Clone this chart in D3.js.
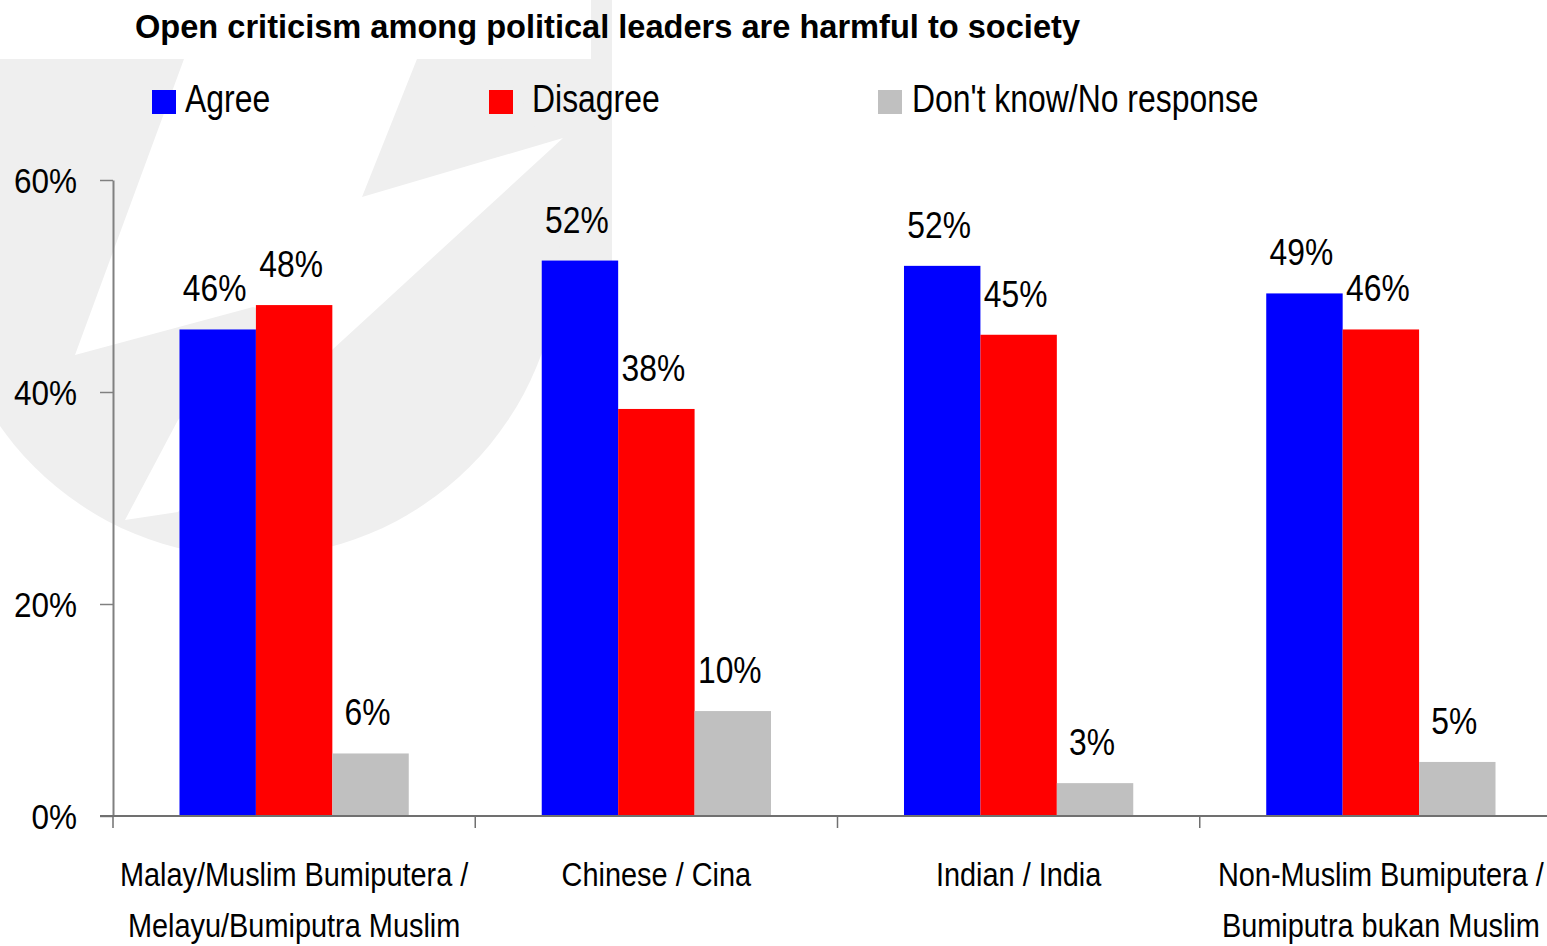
<!DOCTYPE html>
<html><head><meta charset="utf-8">
<script src="https://cdn.jsdelivr.net/npm/d3@7"></script>
<style>
html,body{margin:0;padding:0;background:#fff;overflow:hidden}
text{font-family:'Liberation Sans',Arial,sans-serif;fill:#000}
</style>
</head><body>
<svg id="chart" width="1547" height="946"></svg>
<script>
// ---- data ----
const title = "Open criticism among political leaders are harmful to society";
const categories = ["Malay", "Chinese", "Indian", "NonMuslim"];
const categoryLabels = [
  ["Malay/Muslim Bumiputera /", "Melayu/Bumiputra Muslim"],
  ["Chinese / Cina"],
  ["Indian / India"],
  ["Non-Muslim Bumiputera /", "Bumiputra bukan Muslim"]
];
const seriesNames = ["Agree", "Disagree", "Don't know/No response"];
const agree    = [45.9, 52.4, 51.9, 49.3];
const disagree = [48.2, 38.4, 45.4, 45.9];
const dontKnow = [5.9, 9.9, 3.1, 5.1];
const yTicks = [0, 20, 40, 60];
const colors = ["#0000FF", "#FF0000", "#C0C0C0"];

const seriesValues = [agree, disagree, dontKnow];

// ---- layout ----
const W = 1547, H = 946;
const NARROW = 0.86;
const svg = d3.select("#chart");

function addText(parent, x, y, str, size, sx, anchor) {
  return parent.append("text")
    .attr("transform", `translate(${x},${y}) scale(${sx},1)`)
    .attr("text-anchor", anchor || "start")
    .style("font-size", size + "px")
    .text(str);
}

// background watermark (decorative)
const wm = svg.append("g");
wm.append("rect").attr("x", 0).attr("y", 0).attr("width", 612).attr("height", 270).attr("fill", "#efefef");
wm.append("circle").attr("cx", 252).attr("cy", 249).attr("r", 308).attr("fill", "#efefef");
wm.append("rect").attr("x", 0).attr("y", 0).attr("width", 591).attr("height", 59).attr("fill", "#fff");
const swoosh = [[184,59],[417,59],[362,197],[563,138],[332,350],[178,512],[125,520],[178,420],[290,318],[253,307],[75,355]];
wm.append("path").attr("d", d3.line()(swoosh) + "Z").attr("fill", "#fff");

const x0 = d3.scaleBand().domain(categories).range([113, 1562]).padding(0);
const x1 = d3.scaleBand().domain(seriesNames).range([0, x0.bandwidth()]).paddingInner(0).paddingOuter(0.87);
const y = d3.scaleLinear().domain([0, 60]).range([816, 180]);

// title
svg.append("text").attr("x", 135).attr("y", 38)
  .attr("textLength", 945).attr("lengthAdjust", "spacingAndGlyphs")
  .style("font-size", "33px").style("font-weight", "bold").text(title);

// legend
const legendX = [152, 489, 878];
const legendTextX = [185, 532, 912];
const legend = svg.append("g");
seriesNames.forEach((s, i) => {
  legend.append("rect").attr("x", legendX[i]).attr("y", 90).attr("width", 24).attr("height", 24).attr("fill", colors[i]);
  addText(legend, legendTextX[i], 112, s, 38, 0.84);
});

// y axis
const yAxis = d3.axisLeft(y).tickValues(yTicks).tickFormat(d => d + "%").tickSize(13).tickSizeOuter(0);
const gy = svg.append("g").attr("transform", "translate(113,0)").call(yAxis);
gy.select(".domain").attr("stroke", "#808080").attr("stroke-width", 2);
gy.selectAll(".tick line").attr("stroke", "#808080").attr("stroke-width", 1.5);
gy.selectAll(".tick text").attr("x", null).attr("dy", "0.36em")
  .attr("transform", "translate(-36,0) scale(0.9,1)")
  .style("font-size", "35px").style("font-family", "'Liberation Sans',Arial,sans-serif").attr("fill", "#000");

// bars
const groups = svg.append("g").selectAll("g").data(categories).join("g")
  .attr("transform", d => `translate(${x0(d)},0)`);
groups.each(function(c, ci) {
  const g = d3.select(this);
  seriesNames.forEach((s, si) => {
    const v = seriesValues[si][ci];
    g.append("rect").attr("x", x1(s)).attr("y", y(v)).attr("width", x1.bandwidth())
      .attr("height", y(0) - y(v)).attr("fill", colors[si]);
    addText(g, x1(s) + x1.bandwidth() / 2 - 3, y(v) - 28, Math.round(v) + "%", 37, NARROW, "middle");
  });
});

// x axis
const xAxisLine = svg.append("g");
xAxisLine.append("line").attr("x1", 100).attr("x2", W).attr("y1", y(0)).attr("y2", y(0))
  .attr("stroke", "#707070").attr("stroke-width", 2);
const xTickPos = categories.map(c => x0(c));
xAxisLine.selectAll("line.t").data(xTickPos).join("line").attr("class", "t")
  .attr("x1", d => d).attr("x2", d => d).attr("y1", y(0)).attr("y2", y(0) + 12)
  .attr("stroke", "#707070").attr("stroke-width", 1.5);

// category labels
const cl = svg.append("g");
categories.forEach((c, i) => {
  const cx = x0(c) + x0.bandwidth() / 2;
  categoryLabels[i].forEach((line, li) => {
    addText(cl, cx, 886 + li * 51, line, 34, 0.85, "middle");
  });
});
</script>
</body></html>
